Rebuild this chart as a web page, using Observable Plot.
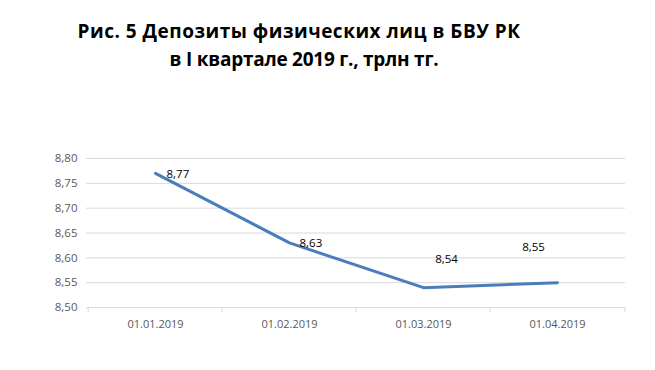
<!DOCTYPE html>
<html>
<head>
<meta charset="utf-8">
<script src="https://cdn.jsdelivr.net/npm/d3@7"></script>
<script src="https://cdn.jsdelivr.net/npm/@observablehq/plot@0.6"></script>
<style>
  html, body { margin: 0; padding: 0; background: #fff; }
  #wrap { width: 655px; height: 370px; position: relative; overflow: hidden; }
  .title { font-family: "Open Sans", sans-serif; font-weight: 700; font-size: 19px; color: #000; height: 90px; box-sizing: border-box; padding-top: 17px; }
  .title div { width: 598px; text-align: center; line-height: 28px; }
  .title div.l1 { letter-spacing: 0.5px; }
  .title div.l2 { width: 608px; letter-spacing: -0.25px; }
</style>
</head>
<body>
<div id="wrap">
  <div class="title"><div class="l1">Рис. 5 Депозиты физических лиц в БВУ РК</div><div class="l2">в I квартале 2019 г., трлн тг.</div></div>
  <div id="chart"></div>
</div>
<script>
const dates = ["01.01.2019", "01.02.2019", "01.03.2019", "01.04.2019"];
const values = [8.77, 8.63, 8.54, 8.55];
const yTicks = [8.50, 8.55, 8.60, 8.65, 8.70, 8.75, 8.80];
const labels = ["8,77", "8,63", "8,54", "8,55"];

const data = dates.map((d, i) => ({date: d, value: values[i], label: labels[i]}));

const W = 655, H = 280, mL = 86, mR = 30, mT = 68, mB = 63;
const step = (W - mL - mR) / dates.length;
const font = "Open Sans, sans-serif";

const labelPos = [
  {dx: 11, dy: 1, anchor: "start"},
  {dx: 10, dy: 0, anchor: "start"},
  {dx: 23, dy: -28, anchor: "middle"},
  {dx: -24, dy: -35, anchor: "middle"}
];

const plot = Plot.plot({
  width: W, height: H,
  marginLeft: mL, marginRight: mR, marginTop: mT, marginBottom: mB,
  style: {fontFamily: font, background: "#fff"},
  x: {type: "point", domain: dates, padding: 0.5, label: null},
  y: {domain: [8.5, 8.8], label: null},
  marks: [
    Plot.gridY(yTicks, {stroke: "#d9d9d9", strokeOpacity: 1}),
    Plot.ruleY([8.5], {stroke: "#d9d9d9"}),
    Plot.ruleX(dates, {x: d => d, dx: -step / 2, y1: 8.5, y2: 8.5, insetBottom: -5, stroke: "#d9d9d9"}),
    Plot.ruleX(dates.slice(-1), {x: d => d, dx: step / 2, y1: 8.5, y2: 8.5, insetBottom: -5, stroke: "#d9d9d9"}),
    Plot.axisY(yTicks, {tickSize: 0, tickPadding: 9, tickFormat: d => d.toFixed(2).replace(".", ","), fontSize: 11.5, fill: "#595959", label: null}),
    Plot.axisX({tickSize: 0, tickPadding: 13, fontSize: 11, fill: "#595959", label: null}),
    Plot.line(data, {x: "date", y: "value", stroke: "#4a7ebb", strokeWidth: 3}),
    ...labelPos.map((p, i) => Plot.text([data[i]], {x: "date", y: "value", text: "label", dx: p.dx, dy: p.dy, textAnchor: p.anchor, fontSize: 11.5, fill: "#000"}))
  ]
});
document.getElementById("chart").appendChild(plot);
</script>
</body>
</html>
